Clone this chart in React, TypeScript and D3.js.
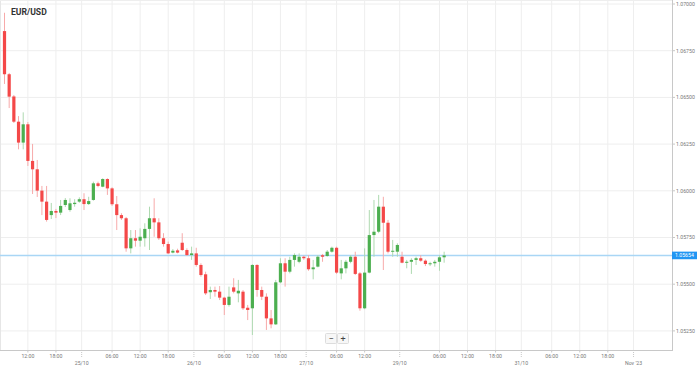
import React from 'react';
import * as d3 from 'd3';

const opens = [1.06855,1.06624,1.06505,1.06370,1.06258,1.06356,1.06160,1.06115,1.06001,1.05942,
1.05870,1.05892,1.05883,1.05924,1.05897,1.05929,1.05942,1.05955,1.05929,1.05951,
1.06040,1.06022,1.06063,1.06013,1.05928,1.05870,1.05853,1.05692,1.05746,1.05733,
1.05746,1.05796,1.05853,1.05831,1.05746,1.05715,1.05669,1.05681,1.05722,1.05683,
1.05656,1.05665,1.05603,1.05553,1.05457,1.05469,1.05460,1.05428,1.05389,1.05483,
1.05451,1.05460,1.05374,1.05371,1.05603,1.05469,1.05433,1.05317,1.05285,1.05510,
1.05612,1.05567,1.05630,1.05620,1.05647,1.05639,1.05580,1.05594,1.05655,1.05651,
1.05674,1.05695,1.05558,1.05585,1.05620,1.05647,1.05558,1.05371,1.05562,1.05763,
1.05781,1.05915,1.05829,1.05674,1.05674,1.05647,1.05615,1.05620,1.05630,1.05639,
1.05626,1.05607,1.05612,1.05620,1.05644];

const closes = [1.06624,1.06504,1.06370,1.06258,1.06356,1.06160,1.06115,1.06001,1.05942,1.05844,
1.05892,1.05883,1.05919,1.05951,1.05933,1.05936,1.05955,1.05929,1.05945,1.06040,
1.06026,1.06063,1.06013,1.05928,1.05870,1.05853,1.05692,1.05746,1.05733,1.05754,
1.05796,1.05853,1.05831,1.05746,1.05715,1.05665,1.05679,1.05669,1.05683,1.05656,
1.05665,1.05603,1.05549,1.05451,1.05469,1.05460,1.05428,1.05389,1.05433,1.05460,
1.05465,1.05371,1.05362,1.05603,1.05469,1.05433,1.05317,1.05285,1.05510,1.05612,
1.05567,1.05630,1.05656,1.05647,1.05639,1.05580,1.05590,1.05647,1.05647,1.05674,
1.05695,1.05562,1.05585,1.05620,1.05647,1.05555,1.05371,1.05562,1.05763,1.05781,
1.05915,1.05829,1.05674,1.05679,1.05710,1.05615,1.05620,1.05630,1.05639,1.05626,
1.05608,1.05612,1.05620,1.05644,1.05654];

const highs = [1.06953,1.06631,1.06513,1.06400,1.06420,1.06368,1.06251,1.06165,1.06026,1.06026,
1.05935,1.05903,1.05951,1.05961,1.05960,1.05955,1.05965,1.05987,1.05968,1.06049,
1.06049,1.06067,1.06067,1.06019,1.05972,1.05880,1.05860,1.05790,1.05790,1.05799,
1.05826,1.05915,1.05960,1.05853,1.05773,1.05728,1.05688,1.05690,1.05773,1.05692,
1.05701,1.05695,1.05612,1.05567,1.05487,1.05487,1.05490,1.05433,1.05487,1.05532,
1.05523,1.05469,1.05389,1.05607,1.05607,1.05487,1.05451,1.05362,1.05523,1.05639,
1.05639,1.05647,1.05665,1.05665,1.05653,1.05656,1.05630,1.05656,1.05662,1.05683,
1.05701,1.05701,1.05630,1.05630,1.05656,1.05674,1.05565,1.05692,1.05897,1.05951,
1.05978,1.05968,1.05844,1.05737,1.05719,1.05674,1.05630,1.05639,1.05647,1.05656,
1.05633,1.05620,1.05630,1.05656,1.05674];

const lows = [1.06572,1.06443,1.06363,1.06222,1.06222,1.06133,1.05983,1.05967,1.05870,1.05835,
1.05849,1.05854,1.05870,1.05913,1.05888,1.05915,1.05936,1.05897,1.05924,1.05947,
1.06019,1.06019,1.05978,1.05919,1.05790,1.05844,1.05674,1.05665,1.05701,1.05701,
1.05701,1.05683,1.05754,1.05737,1.05701,1.05662,1.05665,1.05665,1.05678,1.05651,
1.05630,1.05594,1.05540,1.05442,1.05421,1.05433,1.05415,1.05335,1.05380,1.05451,
1.05403,1.05362,1.05308,1.05228,1.05433,1.05415,1.05255,1.05264,1.05282,1.05505,
1.05487,1.05558,1.05594,1.05612,1.05630,1.05572,1.05526,1.05590,1.05620,1.05647,
1.05669,1.05555,1.05526,1.05558,1.05612,1.05549,1.05358,1.05366,1.05558,1.05647,
1.05773,1.05576,1.05665,1.05647,1.05647,1.05612,1.05585,1.05555,1.05603,1.05620,
1.05597,1.05597,1.05594,1.05572,1.05615];

const lastPrice = 1.05654;
const yTicks = [1.0525, 1.055, 1.0575, 1.06, 1.0625, 1.065, 1.0675, 1.07];
const timeTickIdx = [5, 11, 23, 29, 35, 47, 53, 59, 71, 77, 93, 99, 105, 117, 123, 129];
const timeTickLabels = ['12:00','18:00','06:00','12:00','18:00','06:00','12:00','18:00','06:00','12:00','06:00','12:00','18:00','06:00','12:00','18:00'];
const dateTickIdx = [17, 41, 65, 85, 111, 135];
const dateTickLabels = ['25/10','26/10','27/10','29/10','31/10',"Nov '23"];
const title = 'EUR/USD';

const W = 698, H = 367;
const plotR = 672, plotB = 350;

export default function App() {
  const x = d3.scaleLinear().domain([0, 135]).range([4.5, 4.5 + 135 * 4.677]);
  const y = d3.scaleLinear().domain([1.0525, 1.07]).range([330.9, 4]);
  const fmt = d3.format('.5f');
  const font = 'Roboto, "Open Sans", sans-serif';
  const up = '#4caf50', down = '#f44848';
  const upW = '#aed9b0', downW = '#f7aaaa';
  const bw = 3.2;
  const yl = y(lastPrice);
  return (
    <svg width={W} height={H} style={{ position: 'absolute', left: 0, top: 0, background: '#fff' }} fontFamily={font}>
      <rect x={0} y={0} width={W} height={H} fill="#fff" />
      {yTicks.map((t, i) => (
        <line key={'hg' + i} x1={0} x2={plotR} y1={y(t)} y2={y(t)} stroke="#eeeeee" strokeWidth={1} />
      ))}
      {timeTickIdx.map((t, i) => (
        <line key={'vg' + i} x1={x(t)} x2={x(t)} y1={0} y2={plotB} stroke="#eeeeee" strokeWidth={1} />
      ))}
      {dateTickIdx.map((t, i) => (
        <line key={'vd' + i} x1={x(t - 0.5)} x2={x(t - 0.5)} y1={0} y2={plotB} stroke="#eeeeee" strokeWidth={1} />
      ))}
      <line x1={0.5} x2={0.5} y1={0} y2={plotB} stroke="#e6e6e6" />
      <line x1={0} x2={plotR} y1={0.5} y2={0.5} stroke="#eeeeee" />
      <line x1={0} x2={yl} y1={yl} y2={yl} stroke="none" />
      <line x1={0} x2={plotR} y1={yl} y2={yl} stroke="#a9d6f5" strokeWidth={1.5} />
      {opens.map((o, i) => {
        const c = closes[i];
        const isUp = c >= o;
        const cx = x(i);
        const top = y(Math.max(o, c));
        const bot = y(Math.min(o, c));
        return (
          <g key={'c' + i}>
            <line x1={cx} x2={cx} y1={y(highs[i])} y2={y(lows[i])} stroke={isUp ? upW : downW} strokeWidth={1} />
            <rect x={cx - bw / 2} y={top} width={bw} height={Math.max(1, bot - top)} fill={isUp ? up : down} />
          </g>
        );
      })}
      <line x1={plotR + 0.5} x2={plotR + 0.5} y1={0} y2={plotB} stroke="#c8c8c8" strokeWidth={1} />
      <line x1={0} x2={plotR + 1} y1={plotB + 0.5} y2={plotB + 0.5} stroke="#c8c8c8" strokeWidth={1} />
      {yTicks.map((t, i) => (
        <g key={'yt' + i}>
          <line x1={plotR} x2={plotR + 3} y1={y(t)} y2={y(t)} stroke="#c8c8c8" />
          <text x={plotR + 4} y={y(t)} dy="0.35em" fontSize={5.2} fill="#777">{fmt(t)}</text>
        </g>
      ))}
      <rect x={plotR} y={yl - 3.8} width={25} height={7.6} fill="#2196f3" />
      <text x={plotR + 3} y={yl} dy="0.35em" fontSize={5.2} fill="#fff">{fmt(lastPrice)}</text>
      {timeTickIdx.map((t, i) => (
        <g key={'xt' + i}>
          <line x1={x(t)} x2={x(t)} y1={plotB} y2={plotB + 2.5} stroke="#c8c8c8" />
          <text x={x(t)} y={357.5} textAnchor="middle" fontSize={5.2} fill="#777">{timeTickLabels[i]}</text>
        </g>
      ))}
      {dateTickIdx.map((t, i) => (
        <g key={'xd' + i}>
          <line x1={x(t - 0.5)} x2={x(t - 0.5)} y1={plotB} y2={plotB + 8} stroke="#c8c8c8" strokeDasharray="1,1" />
          <text x={x(t - 0.5)} y={364.5} textAnchor="middle" fontSize={5.2} fill="#777">{dateTickLabels[i]}</text>
        </g>
      ))}
      <text x={11} y={14.5} fontSize={8.6} fontWeight="bold" fill="#333">{title}</text>
      <g>
        <rect x={325.5} y={333.5} width={11} height={10} fill="#f7f7f7" stroke="#dddddd" rx={1} />
        <rect x={337.5} y={333.5} width={11} height={10} fill="#f7f7f7" stroke="#dddddd" rx={1} />
        <text x={331} y={341.5} textAnchor="middle" fontSize={9} fill="#444">−</text>
        <text x={343} y={341.5} textAnchor="middle" fontSize={9} fill="#444">+</text>
      </g>
    </svg>
  );
}
